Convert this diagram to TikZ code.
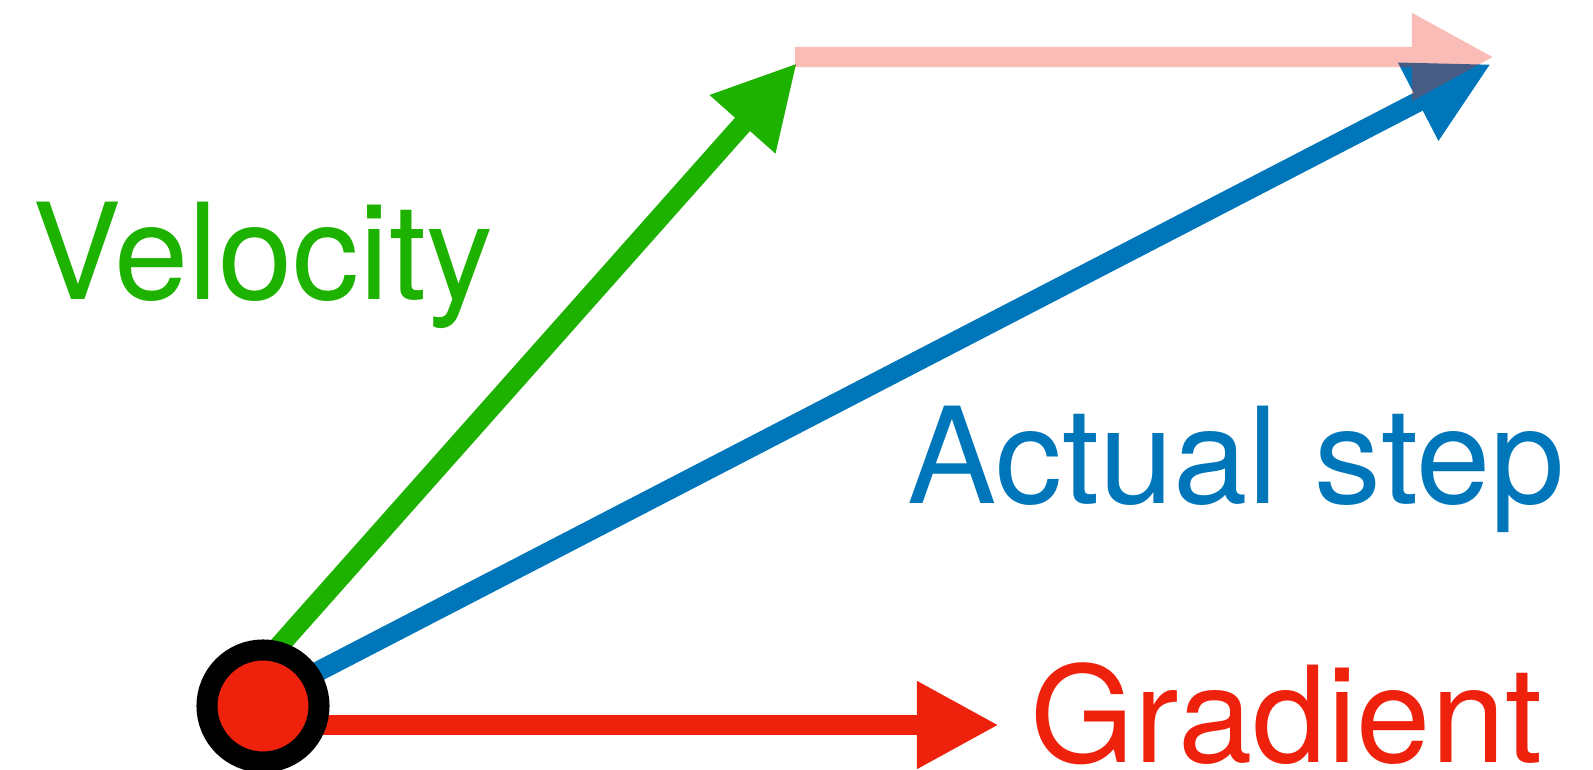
\documentclass[tikz,border=0pt]{standalone}
\usepackage{fontspec}
\setmainfont{TeX Gyre Heros}
\usepackage{xcolor}
\usepackage{tikz}
\usetikzlibrary{arrows.meta}

\definecolor{velgreen}{RGB}{29,177,0}
\definecolor{stepblue}{RGB}{0,118,186}
\definecolor{gradred}{RGB}{238,34,12}

\begin{document}
\begin{tikzpicture}[x=0.01cm,y=-0.01cm,
    vec/.style={line width=0.2cm,-{Triangle[length=0.82cm,width=0.82cm]}},
    lbl/.style={anchor=base west,inner sep=0pt,font=\fontsize{38}{40}\selectfont}]
  \useasboundingbox (0,0) rectangle (1593,770);
  % start point and arrow ends
  \coordinate (o) at (263,706);
  \coordinate (vtail) at (240,690);
  \coordinate (vtip) at (797,63);
  \coordinate (stail) at (263,700);
  \coordinate (stip) at (1491,64);
  \coordinate (gtail) at (263,725);
  \coordinate (gtip) at (999,725);
  \coordinate (ptail) at (795,57);
  \coordinate (ptip) at (1494,57);

  \draw[vec,velgreen] (vtail) -- (vtip);
  \draw[vec,stepblue] (stail) -- (stip);
  \draw[vec,gradred] (gtail) -- (gtip);
  % gradient moved to the velocity tip
  \begin{scope}[transparency group,opacity=0.3]
    \draw[vec,gradred] (ptail) -- (ptip);
  \end{scope}

  \node[circle,draw=black,fill=gradred,line width=0.21cm,
        minimum size=1.12cm,inner sep=0pt] (pt) at (o) {};

  \node[lbl,text=velgreen] (vlabel) at (32,300) {Velocity};
  \node[lbl,text=stepblue] (slabel) at (907,503) {Actual step};
  \node[lbl,text=gradred] (glabel) at (1030,762) {Gradient};
\end{tikzpicture}
\end{document}
